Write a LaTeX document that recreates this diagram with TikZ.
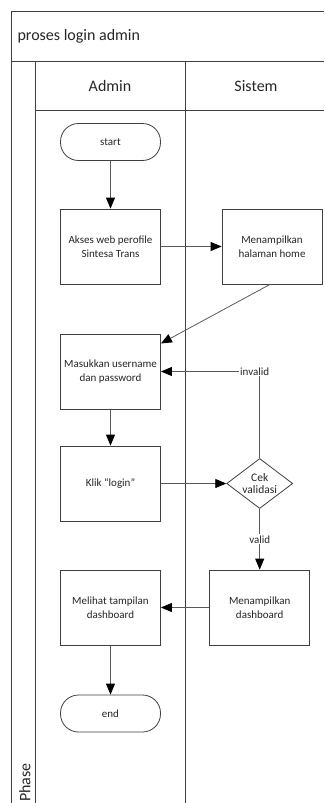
\documentclass[tikz,border=0pt]{standalone}
\usepackage{fontspec}
\setmainfont{Carlito}
\usetikzlibrary{arrows.meta,shapes.geometric}
\definecolor{garis}{HTML}{3F3F3F}
\definecolor{teks}{HTML}{262626}

\begin{document}
\begin{tikzpicture}
[
    x=1pt, y=-1pt,
    lane/.style={draw=garis, line width=0.9pt},
    judul/.style={text=teks, font=\fontsize{16}{18}\selectfont},
    proses/.style={draw=garis, line width=0.8pt, fill=white, text=teks,
        minimum width=100pt, minimum height=75pt, align=center,
        font=\fontsize{11}{13.5}\selectfont},
    terminal/.style={proses, minimum height=37pt, rounded corners=18pt},
    keputusan/.style={draw=garis, line width=0.8pt, fill=white, text=teks,
        diamond, aspect=1.32, inner sep=0pt, minimum width=66pt,
        minimum height=50pt, align=center, font=\fontsize{11.5}{12.5}\selectfont},
    panah/.style={draw=black!65, line width=0.8pt,
        -{Triangle[length=11pt,width=9pt,color=black]}},
    ket/.style={fill=white, text=teks, inner sep=1pt, font=\fontsize{11}{13}\selectfont},
]
\useasboundingbox (0,0) rectangle (324,803);

% swimlane frame
\draw[lane] (11,803) -- (11,11) -- (324,11);
\draw[lane] (11,61) -- (324,61);
\draw[lane] (35,61) -- (35,803);
\draw[lane] (35,110) -- (324,110);
\draw[lane] (185,61) -- (185,803);

\node[judul, anchor=west] (judulpool) at (14,36) {proses login admin};
\node[judul] (lajuradmin) at (110,86) {Admin};
\node[judul] (lajursistem) at (256,86) {Sistem};
\node[judul, rotate=90, anchor=west, inner sep=1pt] (fase) at (25,803) {Phase};

% steps
\node[terminal] (mulai) at (110.5,142) {start};
\node[proses] (akses) at (110.5,246.5) {Akses web perofile\\Sintesa Trans};
\node[proses] (home) at (272,246.5) {Menampilkan\\halaman home};
\node[proses] (masuk) at (110.5,371.5) {Masukkan username\\dan password};
\node[proses] (klik) at (110.5,483.5) {Klik “login”};
\node[keputusan] (cek) at (259.7,483.5) {Cek\\validasi};
\node[proses] (tampil) at (259.7,607.5) {Menampilkan\\dashboard};
\node[proses] (lihat) at (110.5,607.5) {Melihat tampilan\\dashboard};
\node[terminal] (selesai) at (110.5,713.5) {end};

% flow
\draw[panah] (mulai) -- (akses);
\draw[panah] (akses) -- (home);
\draw[panah] ([xshift=-2pt]home.south) -- ([yshift=28pt]masuk.east);
\draw[panah] (masuk) -- (klik);
\draw[panah] (klik) -- (cek);
\draw[panah] (cek.north) |- node[ket, pos=0.5, xshift=-5pt] (lblinvalid) {invalid} (masuk.east);
\draw[panah] (cek) -- node[ket] (lblvalid) {valid} (tampil);
\draw[panah] (tampil) -- (lihat);
\draw[panah] (lihat) -- (selesai);
\end{tikzpicture}
\end{document}
